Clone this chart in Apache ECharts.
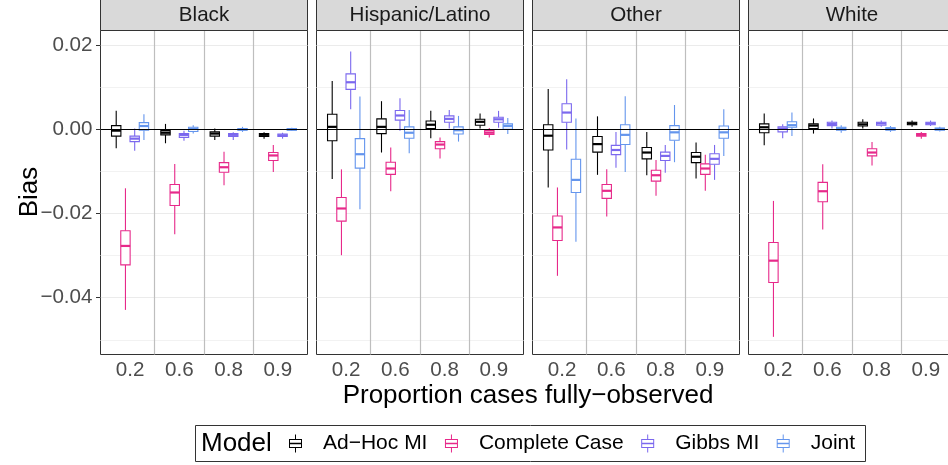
<!DOCTYPE html>
<html><head><meta charset="utf-8">
<script src="https://cdn.jsdelivr.net/npm/echarts@6/dist/echarts.min.js"></script>
<style>html,body{margin:0;padding:0;background:#fff}#c{width:948px;height:465px}</style>
</head><body><div id="c"></div>
<script>
const facets = ['Black', 'Hispanic/Latino', 'Other', 'White'];
const xLabels = ['0.2', '0.6', '0.8', '0.9'];
const models = ['Ad\u2212Hoc MI', 'Complete Case', 'Gibbs MI', 'Joint'];
const colors = ['#000000', '#E7298A', '#7B68EE', '#6495ED'];
const yMinorTicks = [-0.05, -0.03, -0.01, 0.01];
const separators = [1.5, 2.5, 3.5];
const refLine = [0];

// each row: [min, q1, median, q3, max] for proportions 0.2, 0.6, 0.8, 0.9
const blackAdHoc = [[-0.0045,-0.0016,-0.0003,0.0009,0.0044],[-0.0033,-0.0013,-0.0008,-0.0003,0.0013],[-0.0025,-0.0016,-0.0010,-0.0006,0.0002],[-0.0022,-0.0017,-0.0013,-0.0010,-0.0007]];
const blackCC = [[-0.0429,-0.0322,-0.0277,-0.0241,-0.0140],[-0.0249,-0.0181,-0.0150,-0.0131,-0.0082],[-0.0133,-0.0102,-0.0090,-0.0079,-0.0053],[-0.0101,-0.0074,-0.0062,-0.0055,-0.0037]];
const blackGibbs = [[-0.0051,-0.0029,-0.0022,-0.0016,0.0002],[-0.0027,-0.0019,-0.0013,-0.0010,-0.0003],[-0.0025,-0.0017,-0.0013,-0.0010,-0.0007],[-0.0022,-0.0017,-0.0014,-0.0011,-0.0008]];
const blackJoint = [[-0.0025,-0.0002,0.0008,0.0016,0.0036],[-0.0010,-0.0005,0.0001,0.0005,0.0010],[-0.0006,-0.0002,0.0000,0.0002,0.0006],[-0.0004,-0.0002,0.0000,0.0002,0.0004]];

const hispAdHoc = [[-0.0118,-0.0027,0.0006,0.0036,0.0115],[-0.0055,-0.0010,0.0006,0.0025,0.0067],[-0.0021,0.0002,0.0011,0.0020,0.0044],[0.0002,0.0010,0.0018,0.0024,0.0038]];
const hispCC = [[-0.0299,-0.0218,-0.0188,-0.0162,-0.0095],[-0.0147,-0.0107,-0.0093,-0.0078,-0.0043],[-0.0069,-0.0046,-0.0036,-0.0029,-0.0019],[-0.0019,-0.0012,-0.0008,-0.0003,0.0003]];
const hispGibbs = [[0.0048,0.0095,0.0112,0.0132,0.0185],[-0.0003,0.0022,0.0033,0.0045,0.0074],[0.0002,0.0017,0.0025,0.0032,0.0046],[0.0004,0.0017,0.0024,0.0029,0.0044]];
const hispJoint = [[-0.0190,-0.0092,-0.0059,-0.0022,0.0078],[-0.0057,-0.0021,-0.0008,0.0006,0.0046],[-0.0029,-0.0011,-0.0002,0.0006,0.0032],[-0.0011,0.0000,0.0008,0.0013,0.0027]];

const otherAdHoc = [[-0.0138,-0.0049,-0.0015,0.0011,0.0096],[-0.0108,-0.0054,-0.0035,-0.0017,0.0031],[-0.0109,-0.0070,-0.0055,-0.0043,-0.0006],[-0.0117,-0.0079,-0.0065,-0.0055,-0.0031]];
const otherCC = [[-0.0348,-0.0264,-0.0233,-0.0206,-0.0138],[-0.0207,-0.0164,-0.0146,-0.0131,-0.0095],[-0.0158,-0.0123,-0.0109,-0.0097,-0.0073],[-0.0146,-0.0107,-0.0093,-0.0082,-0.0060]];
const otherGibbs = [[-0.0048,0.0017,0.0040,0.0061,0.0119],[-0.0091,-0.0060,-0.0049,-0.0038,-0.0006],[-0.0103,-0.0074,-0.0063,-0.0054,-0.0037],[-0.0120,-0.0083,-0.0070,-0.0058,-0.0037]];
const otherJoint = [[-0.0267,-0.0150,-0.0120,-0.0071,0.0026],[-0.0101,-0.0036,-0.0013,0.0011,0.0079],[-0.0078,-0.0026,-0.0007,0.0009,0.0058],[-0.0063,-0.0021,-0.0007,0.0008,0.0048]];

const whiteAdHoc = [[-0.0038,-0.0008,0.0005,0.0013,0.0038],[-0.0010,0.0002,0.0009,0.0013,0.0026],[0.0002,0.0008,0.0012,0.0017,0.0024],[0.0006,0.0011,0.0014,0.0017,0.0021]];
const whiteCC = [[-0.0493,-0.0364,-0.0312,-0.0269,-0.0170],[-0.0238,-0.0172,-0.0147,-0.0126,-0.0083],[-0.0086,-0.0063,-0.0055,-0.0046,-0.0030],[-0.0022,-0.0016,-0.0013,-0.0010,-0.0006]];
const whiteGibbs = [[-0.0021,-0.0006,0.0002,0.0006,0.0012],[0.0002,0.0009,0.0013,0.0017,0.0021],[0.0006,0.0010,0.0014,0.0017,0.0021],[0.0008,0.0011,0.0014,0.0017,0.0021]];
const whiteJoint = [[-0.0016,0.0005,0.0010,0.0018,0.0040],[-0.0008,-0.0002,0.0002,0.0005,0.0010],[-0.0006,-0.0002,0.0002,0.0004,0.0008],[-0.0005,-0.0002,0.0001,0.0003,0.0006]];

const facetData = [
  [blackAdHoc, blackCC, blackGibbs, blackJoint],
  [hispAdHoc, hispCC, hispGibbs, hispJoint],
  [otherAdHoc, otherCC, otherGibbs, otherJoint],
  [whiteAdHoc, whiteCC, whiteGibbs, whiteJoint]
];

// ---- layout ----
const FONT = 'Liberation Sans';
const P_LEFT = 100.5, P_STEP = 216, P_W = 207, P_TOP = 30.5, P_H = 324;
const Y_MIN = -0.0535, Y_MAX = 0.0235;
const DODGE = 0.1875, BOX_W = 0.19;

const chart = echarts.init(document.getElementById('c'), null, {renderer: 'canvas'});

const grids = [], xAxes = [], yAxes = [], series = [], graphics = [];

function nearMultiple(v, step) {
  const r = v / step;
  return Math.abs(r - Math.round(r)) < 1e-6;
}

facets.forEach((f, i) => {
  const left = P_LEFT + P_STEP * i;
  grids.push({left: left, top: P_TOP, width: P_W, height: P_H, show: true,
    borderColor: '#333333', borderWidth: 1, backgroundColor: '#ffffff',
    containLabel: false, outerBoundsMode: 'none'});
  xAxes.push({type: 'value', gridIndex: i, min: 0.4, max: 4.6, interval: 0.2,
    axisLine: {show: false}, axisTick: {show: false}, splitLine: {show: false},
    axisLabel: {show: true, fontFamily: FONT, fontSize: 20.6, color: '#4D4D4D', margin: 5,
      showMinLabel: false, showMaxLabel: false,
      formatter: v => nearMultiple(v, 1) ? (xLabels[Math.round(v) - 1] || '') : ''}});
  yAxes.push({type: 'value', gridIndex: i, min: Y_MIN, max: Y_MAX,
    axisLine: {show: false},
    axisTick: {show: i === 0, length: 4.5, lineStyle: {color: '#333333', width: 1}},
    splitLine: {show: true, showMinLine: false, showMaxLine: false, lineStyle: {color: '#EBEBEB', width: 1.1}},
    axisLabel: {show: i === 0, fontFamily: FONT, fontSize: 20.6, color: '#4D4D4D', margin: 8,
      showMinLabel: false, showMaxLabel: false,
      formatter: v => nearMultiple(v, 0.02) ? v.toFixed(2).replace('-', '\u2212').replace('\u22120.00', '0.00') : ''}});

  // minor grid + category separators (below boxes)
  series.push({type: 'line', xAxisIndex: i, yAxisIndex: i, data: [], silent: true, z: 1,
    markLine: {silent: true, z: 1, symbol: ['none', 'none'], label: {show: false}, animation: false,
      data: yMinorTicks.map(v => ({yAxis: v, lineStyle: {color: '#F2F2F2', width: 1, type: 'solid'}}))
        .concat(separators.map(v => ({xAxis: v, lineStyle: {color: '#BEBEBE', width: 1.2, type: 'solid'}})))}});

  models.forEach((m, k) => {
    const rows = facetData[i][k];
    series.push({
      type: 'custom', name: m, xAxisIndex: i, yAxisIndex: i, z: 3,
      itemStyle: {color: colors[k]},
      encode: {x: 0, y: [1, 2, 3, 4, 5]},
      data: rows.map((r, j) => [j + 1 + (k - 1.5) * DODGE].concat(r)),
      renderItem: (params, api) => {
        const x = api.value(0);
        const pMin = api.coord([x, api.value(1)]);
        const pQ1 = api.coord([x, api.value(2)]);
        const pMed = api.coord([x, api.value(3)]);
        const pQ3 = api.coord([x, api.value(4)]);
        const pMax = api.coord([x, api.value(5)]);
        const w = api.size([BOX_W, 0])[0];
        const cx = pMed[0];
        const col = colors[k];
        return {type: 'group', children: [
          {type: 'line', shape: {x1: cx, y1: pMax[1], x2: cx, y2: pQ3[1]}, style: {stroke: col, lineWidth: 1.1}},
          {type: 'line', shape: {x1: cx, y1: pQ1[1], x2: cx, y2: pMin[1]}, style: {stroke: col, lineWidth: 1.1}},
          {type: 'rect', shape: {x: cx - w / 2, y: pQ3[1], width: w, height: pQ1[1] - pQ3[1]}, style: {fill: '#ffffff', stroke: col, lineWidth: 1.1}},
          {type: 'line', shape: {x1: cx - w / 2, y1: pMed[1], x2: cx + w / 2, y2: pMed[1]}, style: {stroke: col, lineWidth: 2.2}}
        ]};
      }
    });
  });

  // zero reference line (above boxes)
  series.push({type: 'line', xAxisIndex: i, yAxisIndex: i, data: [], silent: true, z: 10,
    markLine: {silent: true, z: 10, symbol: ['none', 'none'], label: {show: false}, animation: false,
      data: refLine.map(v => ({yAxis: v, lineStyle: {color: '#000000', width: 1.1, type: 'solid'}}))}});

  // strip
  graphics.push({type: 'rect', z: 20, shape: {x: left, y: -2, width: P_W, height: P_TOP + 2},
    style: {fill: '#D9D9D9', stroke: '#333333', lineWidth: 1}});
  graphics.push({type: 'text', z: 21, x: left + P_W / 2, y: 15.5,
    style: {text: f, font: '20.6px "' + FONT + '"', fill: '#1A1A1A',
      textAlign: 'center', textVerticalAlign: 'middle', align: 'center', verticalAlign: 'middle'}});
});

// axis titles
graphics.push({type: 'text', z: 21, x: 30, y: 192, rotation: Math.PI / 2,
  style: {text: 'Bias', font: '26px "' + FONT + '"', fill: '#000000',
    textAlign: 'center', textVerticalAlign: 'middle', align: 'center', verticalAlign: 'middle'}});
graphics.push({type: 'text', z: 21, x: 528, y: 396,
  style: {text: 'Proportion cases fully\u2212observed', font: '26px "' + FONT + '"', fill: '#000000',
    textAlign: 'center', textVerticalAlign: 'middle', align: 'center', verticalAlign: 'middle'}});
// legend frame and title
graphics.push({type: 'rect', z: 21, shape: {x: 195.5, y: 425.5, width: 670, height: 36},
  style: {fill: 'none', stroke: '#333333', lineWidth: 1}});
graphics.push({type: 'text', z: 21, x: 201, y: 444,
  style: {text: 'Model', font: '26px "' + FONT + '"', fill: '#000000',
    textAlign: 'left', textVerticalAlign: 'middle', align: 'left', verticalAlign: 'middle'}});

const boxIcon = 'path://M6 0H7V4.5H6Z M6 13.5H7V18H6Z M0 4.5H13V13.5H0Z M1 5.5V12.5H12V5.5Z M1 8.25H12V9.75H1Z';

chart.setOption({
  animation: false,
  backgroundColor: '#ffffff',
  textStyle: {fontFamily: FONT},
  grid: grids,
  xAxis: xAxes,
  yAxis: yAxes,
  legend: {
    data: models.map(m => ({name: m, icon: boxIcon})),
    left: 289, top: 433, orient: 'horizontal', padding: 0,
    itemWidth: 13, itemHeight: 18, itemGap: 17.5, selectedMode: false,
    textStyle: {fontFamily: FONT, fontSize: 21, color: '#000000', padding: [0, 0, 0, 16]}
  },
  series: series,
  graphic: {elements: graphics}
});
</script>
</body></html>
